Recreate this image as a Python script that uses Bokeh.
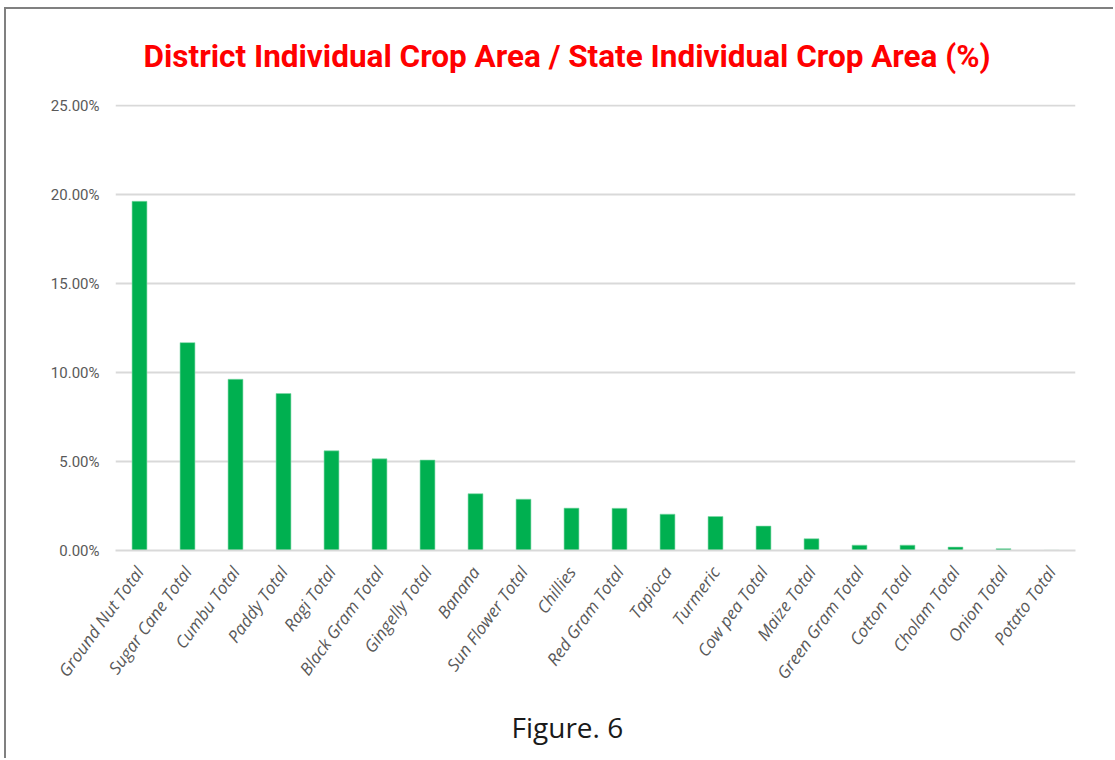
from bokeh.plotting import figure
from bokeh.models import Title, FixedTicker, PrintfTickFormatter
from bokeh.embed import file_html
from bokeh.resources import INLINE

crops = [
    "Ground Nut Total", "Sugar Cane Total", "Cumbu Total", "Paddy Total",
    "Ragi Total", "Black Gram Total", "Gingelly Total", "Banana",
    "Sun Flower Total", "Chillies", "Red Gram Total", "Tapioca",
    "Turmeric", "Cow pea Total", "Maize Total", "Green Gram Total",
    "Cotton Total", "Cholam Total", "Onion Total", "Potato Total",
]
share_pct = [
    19.62, 11.68, 9.62, 8.82, 5.60, 5.15, 5.08, 3.19, 2.88, 2.38,
    2.37, 2.04, 1.91, 1.37, 0.66, 0.30, 0.30, 0.19, 0.10, 0.01,
]
y_ticks = [0, 5, 10, 15, 20, 25]

title_text = "District Individual Crop Area / State Individual Crop Area (%)"
caption_text = "Figure. 6"

p = figure(
    x_range=crops, y_range=(0, 25.06),
    width=1109, height=751,
    min_border_left=109, min_border_right=40,
    min_border_top=95, min_border_bottom=210,
    output_backend="svg", toolbar_location=None,
    margin=(7, 0, 0, 4),
)
p.styles = {"border-top": "2px solid #808080", "border-left": "2px solid #808080"}

p.vbar(x=crops, top=share_pct, width=0.31, fill_color="#00B050",
       line_color="#7fd8a7", line_width=0.6)

p.outline_line_color = None
p.background_fill_color = "white"
p.border_fill_color = "white"

# heading above the plot
p.title.text = title_text
p.title.align = "left"
p.title.offset = 28
p.title.vertical_align = "top"
p.title.text_font = "Roboto"
p.title.text_font_style = "bold"
p.title.text_font_size = "31.5px"
p.title.text_color = "#ff0000"
p.title.standoff = 55

# caption under the axis labels
p.add_layout(Title(
    text=caption_text, align="left", offset=396,
    text_font="Open Sans", text_font_style="normal",
    text_font_size="28px", text_color="#1a1a1a", standoff=25,
), "below")

# y axis: percent labels, no line or ticks
p.yaxis.ticker = FixedTicker(ticks=y_ticks)
p.yaxis.formatter = PrintfTickFormatter(format="%.2f%%")
p.yaxis.axis_line_color = None
p.yaxis.major_tick_line_color = None
p.yaxis.minor_tick_line_color = None
p.yaxis.major_label_text_font = "Roboto"
p.yaxis.major_label_text_font_size = "15px"
p.yaxis.major_label_text_color = "#595959"
p.yaxis.major_label_standoff = 10

# x axis: slanted italic crop names
p.xaxis.axis_line_color = "#d9d9d9"
p.xaxis.axis_line_width = 2
p.xaxis.major_tick_line_color = None
p.xaxis.minor_tick_line_color = None
p.xaxis.major_label_orientation = 0.94
p.xaxis.major_label_text_font = "Open Sans"
p.xaxis.major_label_text_font_style = "italic"
p.xaxis.major_label_text_font_size = "17px"
p.xaxis.major_label_text_color = "#595959"
p.xaxis.major_label_standoff = 12

p.xgrid.grid_line_color = None
p.ygrid.ticker = FixedTicker(ticks=y_ticks)
p.ygrid.grid_line_color = "#d9d9d9"
p.ygrid.grid_line_width = 2

open("out.html", "w").write(file_html(p, INLINE))
